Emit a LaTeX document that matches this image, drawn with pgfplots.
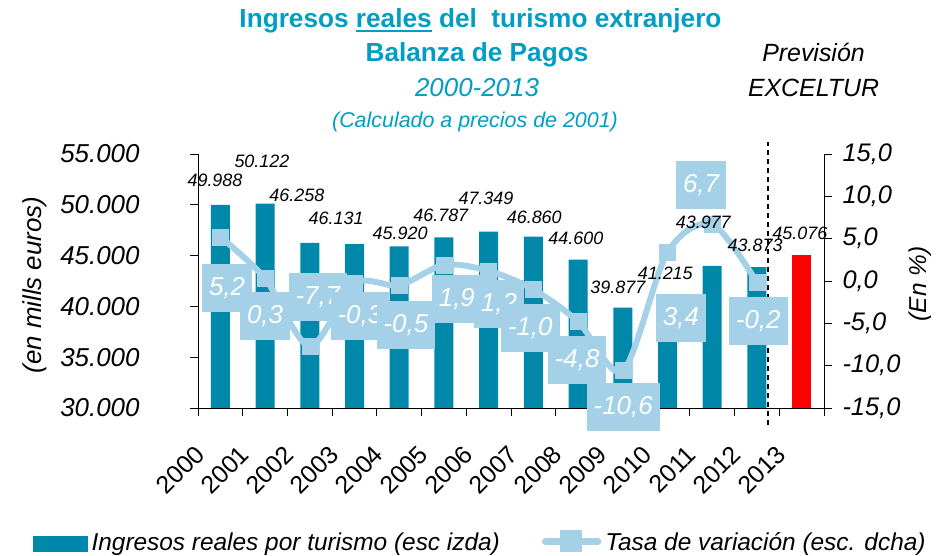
\documentclass[border=0pt]{standalone}
\usepackage{fontspec}
\setmainfont{Liberation Sans}
\usepackage{pgfplots}
\pgfplotsset{compat=1.18}
\definecolor{barblue}{RGB}{0,136,170}
\definecolor{lineblue}{RGB}{164,209,232}
\definecolor{titleblue}{RGB}{0,158,196}
\newcommand{\fs}[1]{\fontsize{#1}{#1}\selectfont}
\newcommand{\ul}[1]{\leavevmode\vtop{\hbox{#1}\kern1.8bp\hrule height 2.2bp}}

\pgfplotstableread{
x y lab
-0.12 11.93 49.988
0.93 14.17 50.122
1.71 10.16 46.258
2.59 7.44 46.131
4.02 5.67 45.920
4.93 7.80 46.787
5.94 9.80 47.349
7.02 7.56 46.860
7.95 5.08 44.600
8.89 -0.71 39.877
9.95 0.94 41.215
10.80 6.97 43.977
11.96 4.25 43.873
12.96 5.67 45.076
}\barlabels

\pgfplotstableread{
x y lab
0.15 -0.83 5,2
1.00 -4.13 0,3
2.18 -1.89 -7,7
3.12 -4.13 -0,3
4.15 -5.20 -0,5
5.29 -2.13 1,9
6.23 -2.72 1,2
6.93 -5.55 -1,0
7.98 -9.33 -4,8
9.01 -14.94 -10,6
10.30 -4.37 3,4
10.75 11.34 6,7
12.03 -4.73 -0,2
}\boxlabels

\begin{document}
\begin{tikzpicture}
\useasboundingbox (0bp,0bp) rectangle (946bp,556bp);
\node[anchor=base, text=titleblue, font=\bfseries\fs{26.3}] at (480.5bp,528bp) {Ingresos \ul{reales} del\ \ turismo extranjero};
\node[anchor=base, text=titleblue, font=\bfseries\fs{26.3}] at (477bp,494bp) {Balanza de Pagos};
\node[anchor=base, text=titleblue, font=\itshape\fs{26}] at (477bp,459bp) {2000-2013};
\node[anchor=base, text=titleblue, font=\itshape\fs{21.5}] at (475bp,428bp) {(Calculado a precios de 2001)};
\node[anchor=base, font=\itshape\fs{25}] at (813.5bp,494bp) {Previsión};
\node[anchor=base, font=\itshape\fs{25}] at (813.5bp,459bp) {EXCELTUR};

\begin{axis}[
  at={(198bp,148bp)}, anchor=south west, scale only axis,
  width=626bp, height=254bp,
  xmin=-0.5, xmax=13.5, ymin=30000, ymax=55000,
  axis x line*=bottom, axis y line*=left,
  axis line style={line width=0.9bp, black},
  tick align=outside, major tick length=8bp,
  tick style={line width=0.9bp, black},
  scaled y ticks=false,
  xtick={-0.5,0.5,...,13.5}, xticklabels={},
  extra x ticks={0,1,...,13},
  extra x tick labels={2000,2001,2002,2003,2004,2005,2006,2007,2008,2009,2010,2011,2012,2013},
  extra x tick style={major tick length=0pt, xticklabel style={rotate=45, anchor=east, font=\fs{25}, xshift=-40.8bp, yshift=-15.3bp}},
  ytick={30000,35000,...,55000},
  yticklabels={30.000,35.000,40.000,45.000,50.000,55.000},
  yticklabel style={font=\itshape\fs{26}, xshift=-47bp},
  ylabel={(en mills euros)},
  ylabel style={font=\itshape\fs{26}, at={(axis description cs:-0.2604,0.484)}, anchor=center},
]
\addplot[ybar, bar width=19bp, bar shift=0bp, fill=barblue, draw=none] coordinates {
(0,49988) (1,50122) (2,46258) (3,46131) (4,45920) (5,46787) (6,47349)
(7,46860) (8,44600) (9,39877) (10,41215) (11,43977) (12,43873)};
\addplot[ybar, bar width=19bp, bar shift=0bp, fill=red, draw=none] coordinates {(13,45076)};
\end{axis}

\begin{axis}[
  at={(198bp,148bp)}, anchor=south west, scale only axis,
  width=626bp, height=254bp,
  xmin=-0.5, xmax=13.5, ymin=-15, ymax=15,
  axis x line=none, axis y line*=right,
  axis line style={line width=0.9bp, black},
  tick align=outside, major tick length=8bp,
  tick style={line width=0.9bp, black},
  ytick={-15,-10,...,15},
  yticklabels={{-15,0},{-10,0},{-5,0},{0,0},{5,0},{10,0},{15,0}},
  yticklabel style={font=\itshape\fs{25.5}, xshift=7bp},
  ylabel={(En \%)},
  ylabel style={font=\itshape\fs{24.5}, at={(axis description cs:1.1534,0.488)}, anchor=center},
  clip=false,
  legend columns=2,
  legend cell align=left,
  legend style={at={(axis description cs:-0.2636,-0.524)}, anchor=west, draw=none, fill=none, inner sep=0pt,
    font=\itshape\fs{24.5},
    /tikz/every odd column/.style={column sep=4bp},
    /tikz/every even column/.style={column sep=42bp},
    nodes={inner sep=0pt, anchor=base}},
]
\addlegendimage{legend image code/.code={\fill[barblue] (0bp,-1bp) rectangle (54bp,14bp);}}
\addlegendentry{Ingresos reales por turismo (esc izda)}
\addplot[lineblue, line width=6bp, smooth, mark=square*, mark size=8bp,
  mark options={solid, fill=lineblue, draw=lineblue, line width=0.5bp},
  legend image code/.code={\draw[lineblue, line width=7.5bp, line cap=round] (4bp,9bp) -- (56bp,9bp); \fill[lineblue] (21bp,1.5bp) rectangle (37bp,17bp);}]
coordinates {(0,5.2) (1,0.3) (2,-7.7) (3,-0.3) (4,-0.5) (5,1.9) (6,1.2) (7,-1.0) (8,-4.8) (9,-10.6) (10,3.4) (11,6.7) (12,-0.2)};
\addlegendentry{Tasa de variación (esc. dcha)}

\addplot[draw=none, forget plot, nodes near coords, point meta=explicit symbolic,
  nodes near coords style={anchor=center, font=\itshape\fs{18}, text=black, inner sep=0pt}]
  table[x=x, y=y, meta=lab] {\barlabels};

\addplot[draw=none, forget plot, nodes near coords, point meta=explicit symbolic,
  nodes near coords style={anchor=center, font=\itshape\fs{26}, text=white, fill=lineblue, inner xsep=7bp, inner ysep=0bp, minimum height=48bp}]
  table[x=x, y=y, meta=lab] {\boxlabels};

\addplot[black, line width=1.6bp, dash pattern=on 5bp off 4bp, forget plot] coordinates {(12.25,-17.0) (12.25,16.4)};
\end{axis}
\end{tikzpicture}
\end{document}
